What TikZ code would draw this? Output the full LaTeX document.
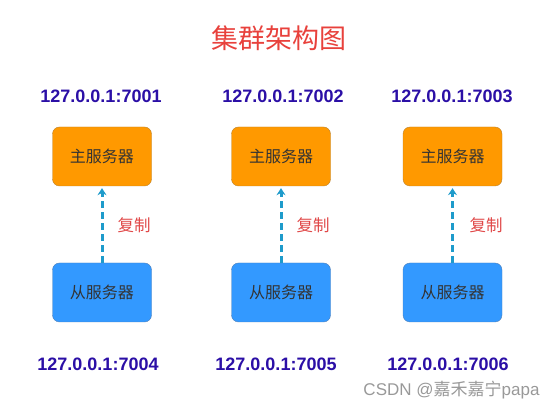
\documentclass[tikz,border=0pt]{standalone}
\usepackage{fontspec}
\setmainfont{Liberation Sans}
\newfontfamily\cjk{Noto Sans CJK SC}
\usetikzlibrary{arrows.meta}
\definecolor{titlered}{HTML}{E8413C}
\definecolor{ipblue}{HTML}{2B0FA6}
\definecolor{masterfill}{HTML}{FF9900}
\definecolor{masterline}{HTML}{B9822E}
\definecolor{slavefill}{HTML}{3399FF}
\definecolor{slaveline}{HTML}{4F7FB8}
\definecolor{copyline}{HTML}{1E9BCB}
\definecolor{copyred}{HTML}{E04848}

\begin{document}
\begin{tikzpicture}[x=1pt, y=-1pt, >={Stealth[length=7pt,width=9pt]},
    master/.style={draw=masterline, fill=masterfill, rounded corners=7pt,
      minimum width=99pt, minimum height=59pt, font=\cjk\fontsize{16}{16}\selectfont, text=black!80},
    slave/.style={draw=slaveline, fill=slavefill, rounded corners=7pt,
      minimum width=99pt, minimum height=59pt, font=\cjk\fontsize{16}{16}\selectfont, text=black!80},
    ip/.style={font=\bfseries\fontsize{18}{18}\selectfont, text=ipblue},
    copylabel/.style={font=\cjk\fontsize{16.5}{16.5}\selectfont, text=copyred},
    copyarrow/.style={->, draw=copyline, line width=3pt, dash pattern=on 7pt off 4pt}]
      \useasboundingbox (0,0) rectangle (558,409);

      % Title
      \node[font=\cjk\fontsize{27}{27}\selectfont, text=titlered] (title) at (279,38) {集群架构图};

      % Addresses of the masters
      \node[ip] (ip1) at (101,96) {127.0.0.1:7001};
      \node[ip] (ip2) at (283,96) {127.0.0.1:7002};
      \node[ip] (ip3) at (452,96) {127.0.0.1:7003};

      % Master servers
      \node[master] (M1) at (102,156.5) {主服务器};
      \node[master] (M2) at (281,156.5) {主服务器};
      \node[master] (M3) at (452.5,156.5) {主服务器};

      % Slave servers
      \node[slave] (S1) at (102,292.5) {从服务器};
      \node[slave] (S2) at (281,292.5) {从服务器};
      \node[slave] (S3) at (452.5,292.5) {从服务器};

      % Addresses of the slaves
      \node[ip] (ip4) at (98,364) {127.0.0.1:7004};
      \node[ip] (ip5) at (276,364) {127.0.0.1:7005};
      \node[ip] (ip6) at (448,364) {127.0.0.1:7006};

      % Replication
      \draw[copyarrow] (S1.north) -- ([yshift=-2pt]M1.south);
      \draw[copyarrow] (S2.north) -- ([yshift=-2pt]M2.south);
      \draw[copyarrow] (S3.north) -- ([yshift=-2pt]M3.south);
      \node[copylabel] (c1) at (134,225) {复制};
      \node[copylabel] (c2) at (313,225) {复制};
      \node[copylabel] (c3) at (486,225) {复制};

      % Watermark
      \node[anchor=east, font=\fontsize{17}{17}\selectfont, text=black!40] (mark) at (543,390) {CSDN @{\cjk 嘉禾嘉宁}papa};
\end{tikzpicture}
\end{document}
